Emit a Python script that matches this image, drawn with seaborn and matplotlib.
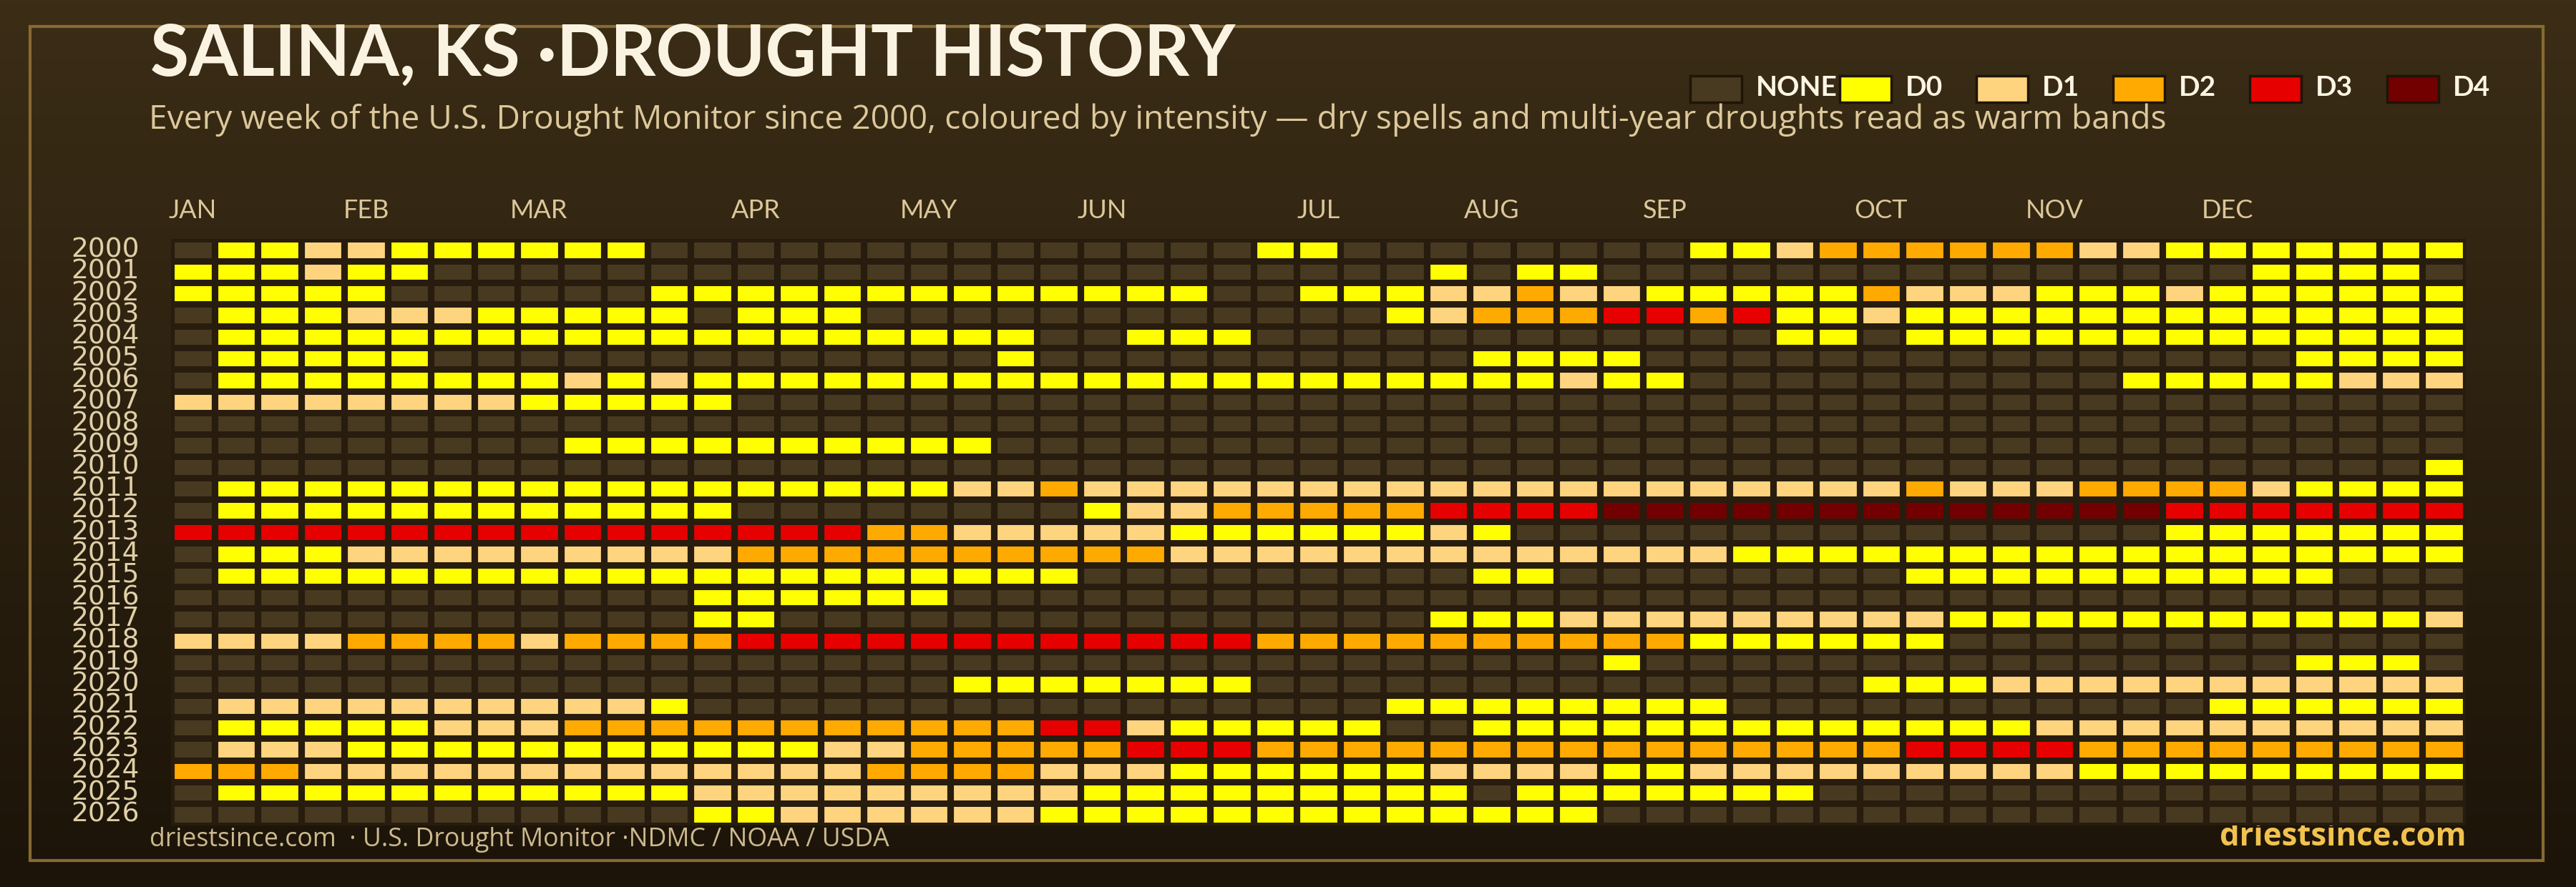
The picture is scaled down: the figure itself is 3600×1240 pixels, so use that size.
import numpy as np
import pandas as pd
import matplotlib.pyplot as plt
import seaborn as sns
from matplotlib.colors import ListedColormap, LinearSegmentedColormap
from matplotlib.patches import Rectangle

# -------------------------------
# DATA
# -------------------------------
years = list(range(2000, 2027))

# one string per year, one char per USDM week (53 columns)
# '.' = no drought, '0'..'4' = D0..D4
# each row is split in three pieces: weeks 1-18, 19-36, 37-53
weeks_2000_2008 = [
    (".0011000000.......", ".......00........0", "01222222110000000"),
    ("000100............", "...........0.00...", "............0000."),
    ("00000......0000000", "000000..0001121100", "00021110001000000"),
    (".00011100000.000..", "..........01222332", "30010000000000000"),
    (".00000000000000000", "00..000...........", ".00.0000000000000"),
    (".00000............", ".0..........0000..", ".............0000"),
    (".00000000101000000", "00000000000000100.", ".........00000111"),
    ("1111111100000.....", "..................", "................."),
    ("..................", "..................", "................."),
]
weeks_2009_2017 = [
    (".........000000000", "0.................", "................."),
    ("..................", "..................", "................0"),
    (".00000000000000000", "112111111111111111", "11112111222210000"),
    (".000000000000.....", "...011222223333444", "44444444443333333"),
    ("333333333333333322", "1111100000010.....", "..........0000000"),
    (".00011111111122222", "222221111111111111", "00000000000000000"),
    (".00000000000000000", "000.........00....", "....0000000000..."),
    ("............000000", "..................", "................."),
    ("............00....", "...........0001111", "11111000000000001"),
]
weeks_2018_2026 = [
    ("111122221222233333", "333333322222222220", "00000............"),
    ("..................", "...............0..", ".............000."),
    ("..................", "0000000...........", "...00011111111111"),
    (".11111111110......", "..........00000000", "...........000000"),
    (".00000111222222222", "2233100000..000000", "00000001111111111"),
    (".11100000000000112", "222233322222222222", "22223333222222222"),
    ("222111111111111122", "221110000001111001", "11111111000000000"),
    (".00000000000111111", "111000000000.00000", "00..............."),
    ("............001111", "110000000000000...", "................."),
]

month_names = ["JAN", "FEB", "MAR", "APR", "MAY", "JUN",
               "JUL", "AUG", "SEP", "OCT", "NOV", "DEC"]
month_weeks = [0, 4, 8, 13, 17, 21, 26, 30, 34, 39, 43, 47]

level_names = ["NONE", "D0", "D1", "D2", "D3", "D4"]
level_colors = ["#483a20", "#ffff00", "#fed47f", "#ffaa00", "#e60000", "#730000"]

code = {".": 0, "0": 1, "1": 2, "2": 3, "3": 4, "4": 5}
rows = []
for y, parts in zip(years, weeks_2000_2008 + weeks_2009_2017 + weeks_2018_2026):
    assert [len(p) for p in parts] == [18, 18, 17], (y, [len(p) for p in parts])
    rows.append([code[c] for c in "".join(parts)])
grid = pd.DataFrame(rows, index=years)

# -------------------------------
# STYLE
# -------------------------------
sns.set_theme(style="white")
plt.rcParams["font.family"] = ["Lato", "DejaVu Sans"]
SANS = ["Open Sans", "DejaVu Sans"]

W, H = 3600, 1240
gap_color = "#271c0e"
fig = plt.figure(figsize=(W / 100, H / 100), dpi=100)

# background (pixel coordinates)
bg = fig.add_axes([0, 0, 1, 1])
bg.set_xlim(0, W)
bg.set_ylim(H, 0)
bg.axis("off")
grad = np.linspace(0, 1, 256).reshape(-1, 1)
bg.imshow(grad, extent=(0, W, H, 0), aspect="auto",
          cmap=LinearSegmentedColormap.from_list("bg", ["#3b2d16", "#1c1409"]), zorder=0)
bg.add_patch(Rectangle((42, 37), 3512, 1166, fill=False, ec="#876a32", lw=3, zorder=1))

bg.text(210, 106, "SALINA, KS ·DROUGHT HISTORY", fontsize=71, fontweight="bold",
        color="#fbf3e1", va="baseline", zorder=5)
bg.text(208, 180, "Every week of the U.S. Drought Monitor since 2000, coloured by intensity \u2014 "
        "dry spells and multi-year droughts read as warm bands",
        fontsize=33.2, family=SANS, color="#dcc89a", va="baseline", zorder=5)

# legend
legend_x = [2362, 2571, 2762, 2953, 3144, 3336]
for x, name, col in zip(legend_x, level_names, level_colors):
    bg.add_patch(Rectangle((x, 106), 72, 37, fc=col, ec="#1e1408", lw=2.5, zorder=3))
    bg.text(x + 92, 134, name, fontsize=28, fontweight="bold", color="#fdf5e3",
            va="baseline", zorder=5)

# footer
bg.text(209, 1183, "driestsince.com  \u00b7 U.S. Drought Monitor \u00b7NDMC / NOAA / USDA",
        fontsize=25.7, family=SANS, color="#cdb98f", va="baseline")
bg.text(3446, 1182, "driestsince.com", fontsize=31.5, family=SANS, fontweight="bold",
        color="#f2c24f", ha="right", va="baseline")

# -------------------------------
# HEATMAP
# -------------------------------
ax = fig.add_axes([239.2 / W, 1 - 1153.65 / H, 3206.4 / W, 819.3 / H])
sns.heatmap(grid, ax=ax, cmap=ListedColormap(level_colors), vmin=-0.5, vmax=5.5,
            cbar=False, linewidths=7.3 * 0.72, linecolor=gap_color,
            xticklabels=False, yticklabels=years)
ax.vlines(np.arange(grid.shape[1] + 1), 0, len(years), colors=gap_color, linewidth=9.2 * 0.72)
ax.set_facecolor("none")
ax.set_xlabel("")
ax.set_ylabel("")
ax.set_xticks(np.array(month_weeks) + 0.5)
ax.set_xticklabels(month_names)
ax.xaxis.tick_top()
ax.tick_params(axis="x", length=0, pad=16.5, labelsize=26, labelcolor="#dcc79a")
ax.tick_params(axis="y", length=0, pad=32, labelsize=27, labelcolor="#e0d0a8", labelrotation=0)
for t in ax.get_yticklabels():
    t.set_family("DejaVu Sans")

fig.savefig("out.png", dpi=100)
